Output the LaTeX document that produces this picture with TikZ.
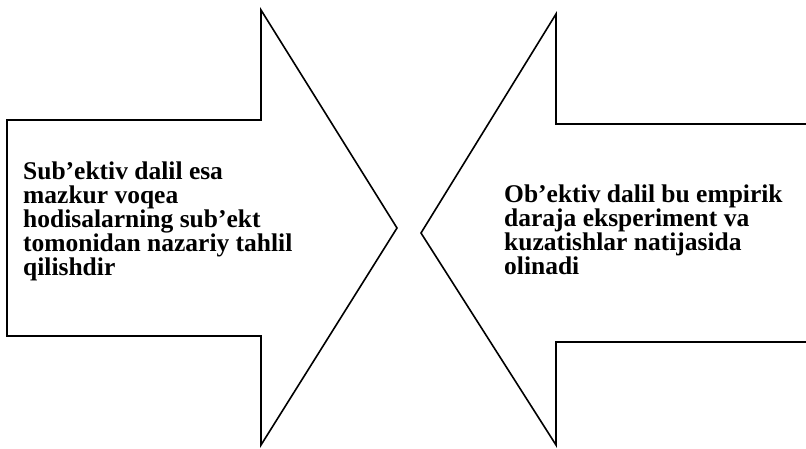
\documentclass[tikz,border=0pt]{standalone}
\usepackage{fontspec}
\setmainfont{Liberation Serif}
\begin{document}
\begin{tikzpicture}[x=1pt,y=-1pt,
  arrowline/.style={draw=black,line width=1.6pt,line join=miter},
  txt/.style={anchor=north west,inner sep=0pt,align=left,
    font=\fontsize{25.5}{24}\selectfont\bfseries}]
\useasboundingbox (0,0) rectangle (806,448);
% left arrow
\coordinate (l1) at (7,120);
\coordinate (l2) at (261,120);
\coordinate (l3) at (261,10);
\coordinate (ltip) at (397,228);
\coordinate (l4) at (261,445);
\coordinate (l5) at (261,336);
\coordinate (l6) at (7,336);
\draw[arrowline] (l1) -- (l2) -- (l3) -- (ltip) -- (l4) -- (l5) -- (l6) -- cycle;
% right arrow
\coordinate (r1) at (806,124);
\coordinate (r2) at (556,124);
\coordinate (r3) at (556,14);
\coordinate (rtip) at (421,233);
\coordinate (r4) at (556,445);
\coordinate (r5) at (556,342);
\coordinate (r6) at (806,342);
\draw[arrowline] (r1) -- (r2) -- (r3) -- (rtip) -- (r4) -- (r5) -- (r6);
\node[txt] (ltext) at (23,162) {Sub’ektiv dalil esa\\mazkur voqea\\hodisalarning sub’ekt\\tomonidan nazariy tahlil\\qilishdir};
\node[txt] (rtext) at (504,185) {Ob’ektiv dalil bu empirik\\daraja eksperiment va\\kuzatishlar natijasida\\olinadi};
\end{tikzpicture}
\end{document}
